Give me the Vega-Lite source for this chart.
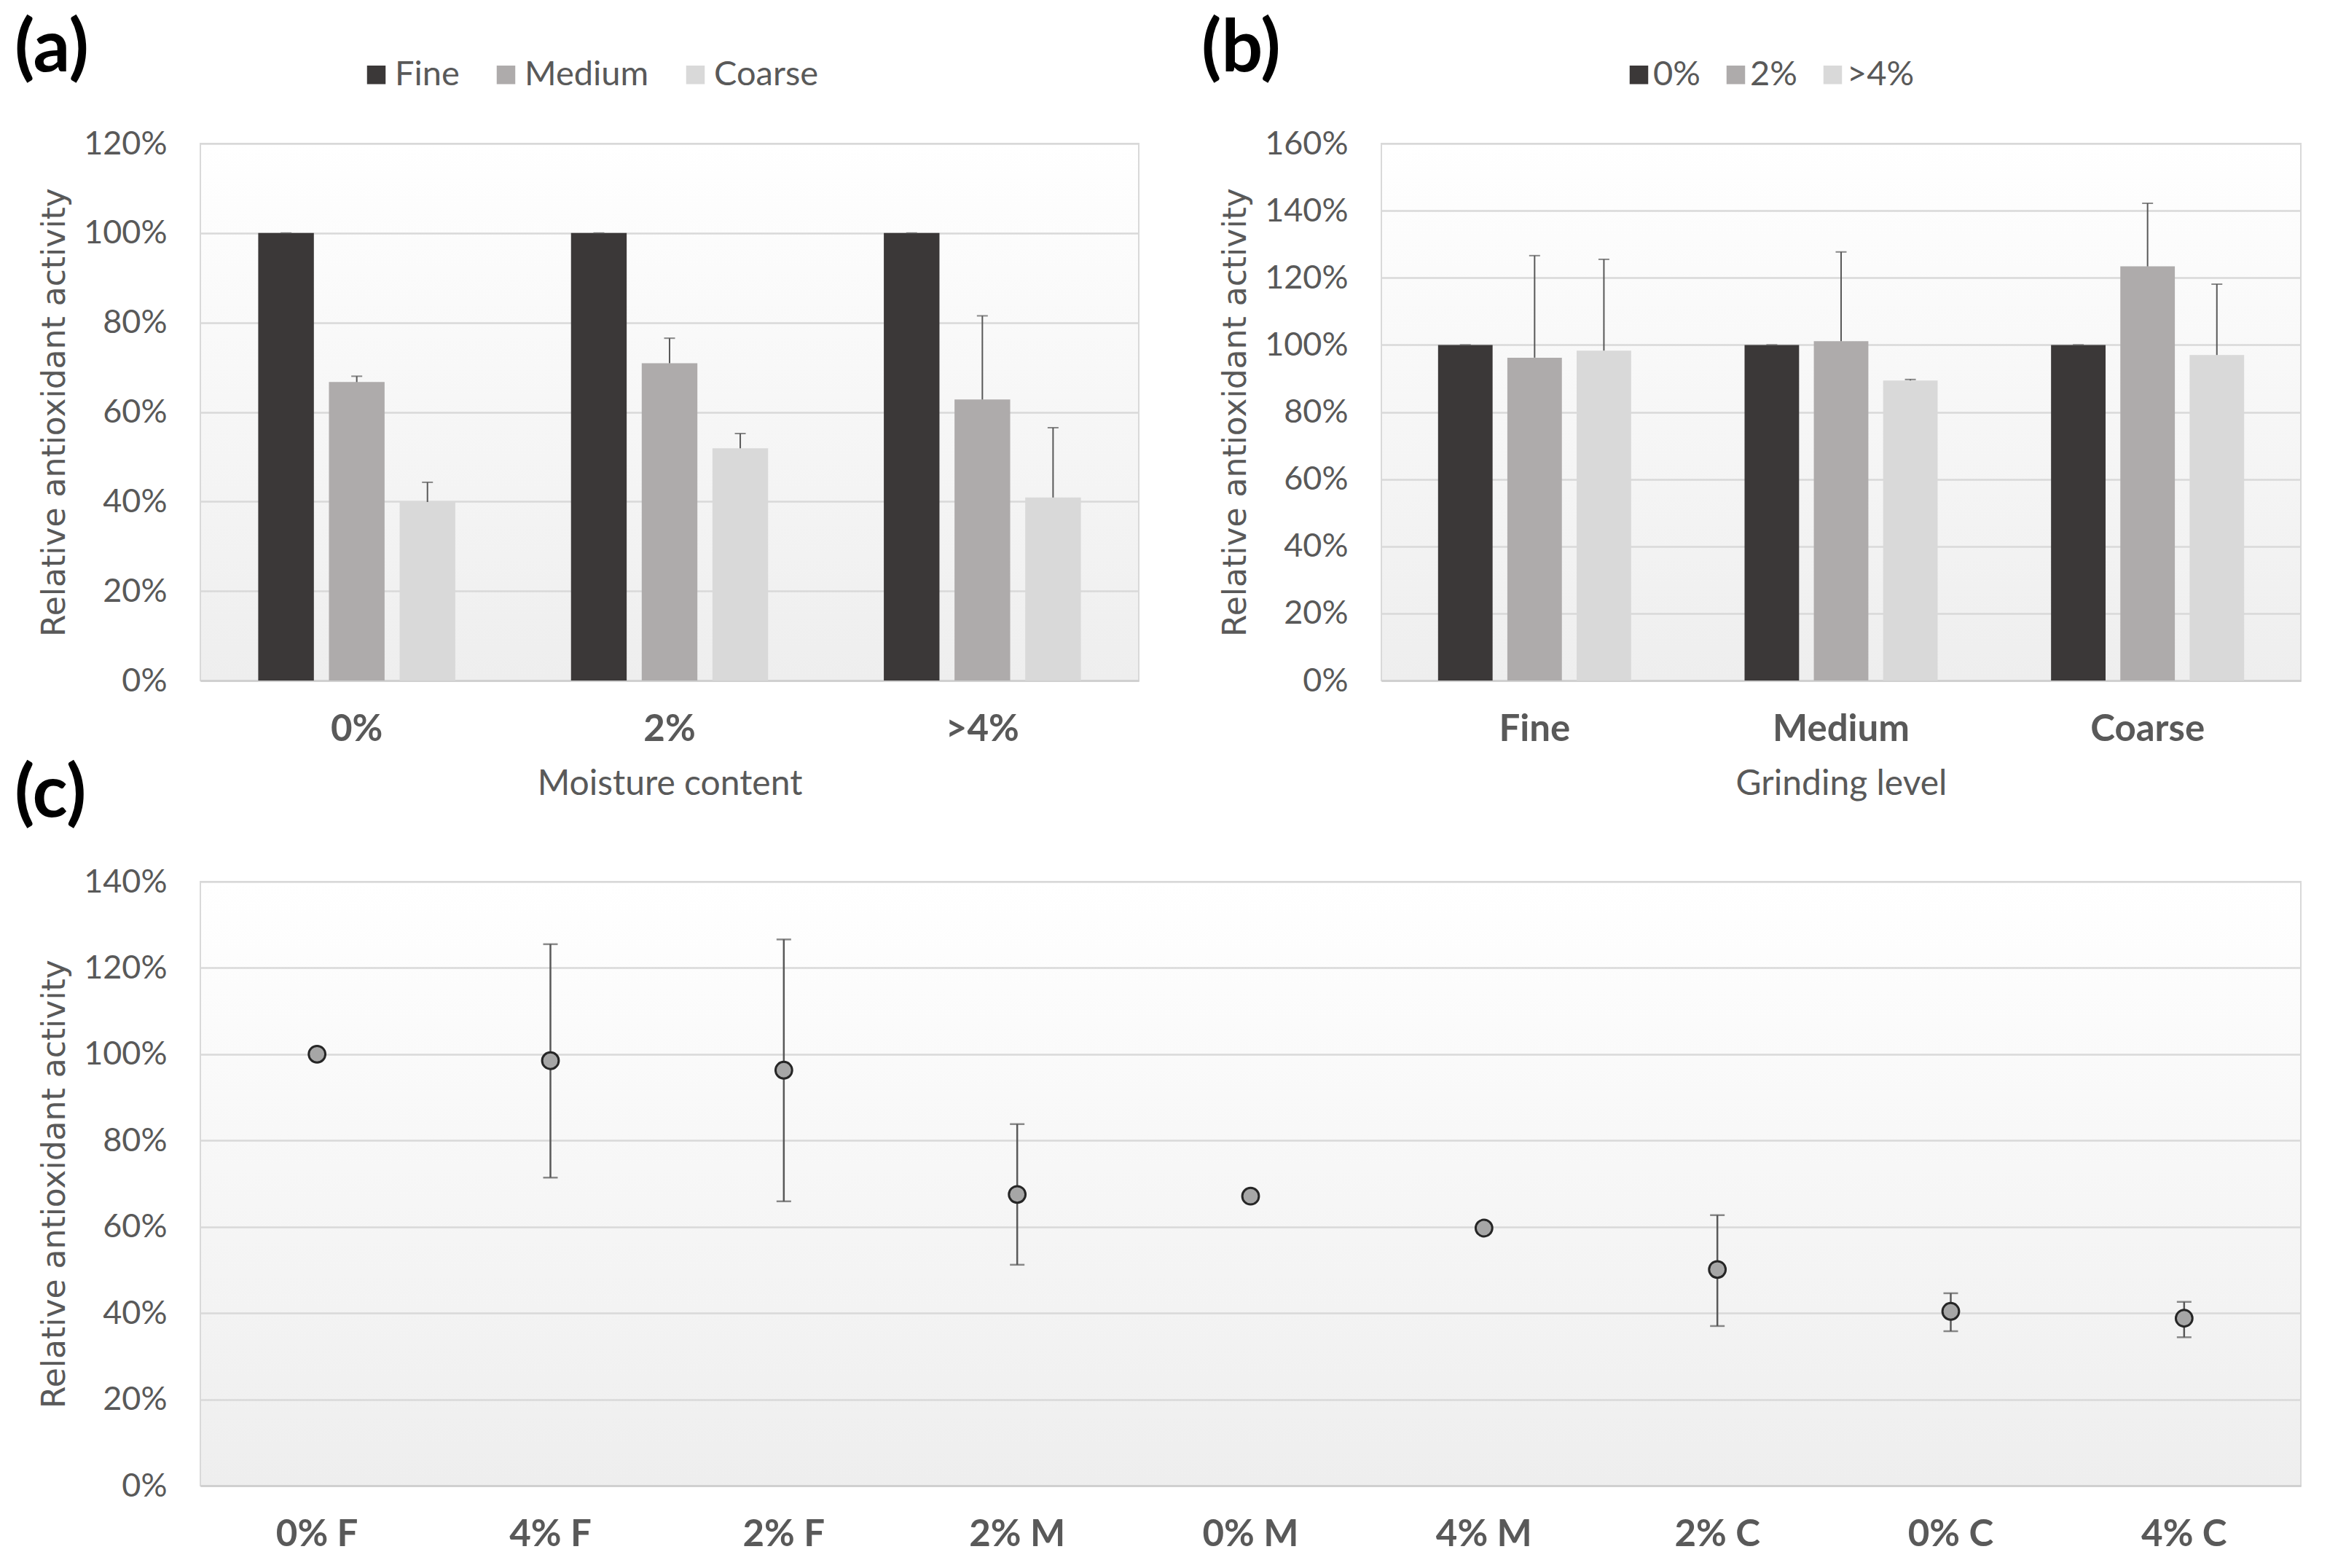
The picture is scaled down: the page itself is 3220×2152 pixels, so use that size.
{
  "$schema": "https://vega.github.io/schema/vega-lite/v6.json",
  "autosize": {"type": "none"},
  "padding": {"left": 275, "top": 197, "right": 2945, "bottom": 1955},
  "background": "#ffffff",
  "config": {
    "font": "Lato",
    "view": {"stroke": "#d9d9d9", "strokeWidth": 2, "fill": {"gradient": "linear", "x1": 0, "y1": 0, "x2": 0, "y2": 1, "stops": [{"offset": 0, "color": "#ffffff"}, {"offset": 1, "color": "#eeeeee"}]}},
    "axis": {"labelFont": "Lato", "labelColor": "#595959", "titleColor": "#595959", "titleFontWeight": "normal", "labelLimit": 600},
    "axisY": {"domain": false, "ticks": false, "tickSize": 0, "grid": true, "gridColor": "#d9d9d9", "gridWidth": 2.5, "labelFontSize": 45, "labelPadding": 46, "titleFont": "DejaVu Sans", "titleFontSize": 44, "titlePadding": 17},
    "axisX": {"domain": true, "domainColor": "#d0d0d0", "domainWidth": 3, "ticks": false, "tickSize": 0, "grid": false, "labelFontSize": 51, "labelFontWeight": "bold", "labelPadding": 42, "labelAngle": 0, "titleFont": "Lato", "titleFontSize": 48, "titlePadding": 26},
    "legend": {"labelFont": "Lato", "labelFontSize": 47, "labelColor": "#595959", "symbolType": "square", "symbolSize": 650, "symbolStrokeWidth": 0, "labelOffset": 2, "labelLimit": 600}
  },
  "spacing": 1013,
  "bounds": "flush",
  "resolve": {"scale": {"x": "independent", "y": "independent", "color": "independent"}, "legend": {"color": "independent"}},
  "vconcat": [
    {
      "spacing": 333,
      "bounds": "flush",
      "resolve": {"scale": {"x": "independent", "y": "independent", "color": "independent", "xOffset": "independent"}, "legend": {"color": "independent"}},
      "hconcat": [
        {
          "width": 1288,
          "height": 737,
          "title": {"text": "(a)", "anchor": "start", "frame": "group", "orient": "top", "offset": 0, "dx": -255, "dy": 40, "fontSize": 100, "fontWeight": "bold", "color": "#000000", "baseline": "top", "font": "Lato"},
          "data": {"values": [
            {"moisture": "0%", "grind": "Fine", "value": 1.0, "upper": 1.0},
            {"moisture": "0%", "grind": "Medium", "value": 0.667, "upper": 0.68},
            {"moisture": "0%", "grind": "Coarse", "value": 0.399, "upper": 0.443},
            {"moisture": "2%", "grind": "Fine", "value": 1.0, "upper": 1.0},
            {"moisture": "2%", "grind": "Medium", "value": 0.709, "upper": 0.765},
            {"moisture": "2%", "grind": "Coarse", "value": 0.519, "upper": 0.552},
            {"moisture": ">4%", "grind": "Fine", "value": 1.0, "upper": 1.0},
            {"moisture": ">4%", "grind": "Medium", "value": 0.628, "upper": 0.815},
            {"moisture": ">4%", "grind": "Coarse", "value": 0.409, "upper": 0.565}
          ]},
          "encoding": {
            "x": {"field": "moisture", "type": "nominal", "sort": ["0%", "2%", ">4%"], "scale": {"paddingInner": 0.37, "paddingOuter": 0.185}, "title": "Moisture content"},
            "xOffset": {"field": "grind", "type": "nominal", "sort": ["Fine", "Medium", "Coarse"], "scale": {"paddingInner": 0.213, "paddingOuter": 0}}
          },
          "layer": [
            {
              "mark": {"type": "bar"},
              "encoding": {
                "y": {"field": "value", "type": "quantitative", "scale": {"domain": [0, 1.2]}, "axis": {"format": ".0%", "values": [0, 0.2, 0.4, 0.6, 0.8, 1.0, 1.2]}, "title": "Relative antioxidant activity"},
                "color": {"field": "grind", "type": "nominal", "scale": {"domain": ["Fine", "Medium", "Coarse"], "range": ["#3b3838", "#aeabab", "#d9d9d9"]}, "legend": {"orient": "none", "legendX": 218, "legendY": -118, "direction": "horizontal", "title": null, "columnPadding": 40}}
              }
            },
            {
              "mark": {"type": "rule", "color": "#595959", "strokeWidth": 2},
              "encoding": {"y": {"field": "value", "type": "quantitative"}, "y2": {"field": "upper"}}
            },
            {
              "mark": {"type": "tick", "color": "#595959", "thickness": 2, "size": 15},
              "encoding": {"y": {"field": "upper", "type": "quantitative"}}
            }
          ]
        },
        {
          "width": 1262,
          "height": 737,
          "title": {"text": "(b)", "anchor": "start", "frame": "group", "orient": "top", "offset": 0, "dx": -247, "dy": 40, "fontSize": 100, "fontWeight": "bold", "color": "#000000", "baseline": "top", "font": "Lato"},
          "data": {"values": [
            {"grind": "Fine", "moisture": "0%", "value": 1.0, "upper": 1.0},
            {"grind": "Fine", "moisture": "2%", "value": 0.962, "upper": 1.266},
            {"grind": "Fine", "moisture": ">4%", "value": 0.983, "upper": 1.255},
            {"grind": "Medium", "moisture": "0%", "value": 1.0, "upper": 1.0},
            {"grind": "Medium", "moisture": "2%", "value": 1.011, "upper": 1.277},
            {"grind": "Medium", "moisture": ">4%", "value": 0.894, "upper": 0.897},
            {"grind": "Coarse", "moisture": "0%", "value": 1.0, "upper": 1.0},
            {"grind": "Coarse", "moisture": "2%", "value": 1.234, "upper": 1.422},
            {"grind": "Coarse", "moisture": ">4%", "value": 0.97, "upper": 1.181}
          ]},
          "encoding": {
            "x": {"field": "grind", "type": "nominal", "sort": ["Fine", "Medium", "Coarse"], "scale": {"paddingInner": 0.37, "paddingOuter": 0.185}, "title": "Grinding level"},
            "xOffset": {"field": "moisture", "type": "nominal", "sort": ["0%", "2%", ">4%"], "scale": {"paddingInner": 0.213, "paddingOuter": 0}}
          },
          "layer": [
            {
              "mark": {"type": "bar"},
              "encoding": {
                "y": {"field": "value", "type": "quantitative", "scale": {"domain": [0, 1.6]}, "axis": {"format": ".0%", "values": [0, 0.2, 0.4, 0.6, 0.8, 1.0, 1.2, 1.4, 1.6]}, "title": "Relative antioxidant activity"},
                "color": {"field": "moisture", "type": "nominal", "scale": {"domain": ["0%", "2%", ">4%"], "range": ["#3b3838", "#aeabab", "#d9d9d9"]}, "legend": {"orient": "none", "legendX": 330, "legendY": -118, "direction": "horizontal", "title": null, "columnPadding": 25, "labelOffset": -4}}
              }
            },
            {
              "mark": {"type": "rule", "color": "#595959", "strokeWidth": 2},
              "encoding": {"y": {"field": "value", "type": "quantitative"}, "y2": {"field": "upper"}}
            },
            {
              "mark": {"type": "tick", "color": "#595959", "thickness": 2, "size": 15},
              "encoding": {"y": {"field": "upper", "type": "quantitative"}}
            }
          ]
        }
      ]
    },
    {
      "width": 2883,
      "height": 829,
      "title": {"text": "(c)", "anchor": "start", "frame": "group", "orient": "top", "offset": 0, "dx": -255, "dy": -46, "fontSize": 100, "fontWeight": "bold", "color": "#000000", "baseline": "top", "font": "Lato"},
      "data": {"values": [
        {"sample": "0% F", "value": 1.0, "low": null, "high": null},
        {"sample": "4% F", "value": 0.985, "low": 0.714, "high": 1.255},
        {"sample": "2% F", "value": 0.963, "low": 0.659, "high": 1.266},
        {"sample": "2% M", "value": 0.675, "low": 0.512, "high": 0.838},
        {"sample": "0% M", "value": 0.671, "low": null, "high": null},
        {"sample": "4% M", "value": 0.597, "low": null, "high": null},
        {"sample": "2% C", "value": 0.501, "low": 0.37, "high": 0.627},
        {"sample": "0% C", "value": 0.404, "low": 0.358, "high": 0.446},
        {"sample": "4% C", "value": 0.388, "low": 0.344, "high": 0.426}
      ]},
      "encoding": {
        "x": {"field": "sample", "type": "nominal", "sort": ["0% F", "4% F", "2% F", "2% M", "0% M", "4% M", "2% C", "0% C", "4% C"], "scale": {"domain": ["0% F", "4% F", "2% F", "2% M", "0% M", "4% M", "2% C", "0% C", "4% C"], "paddingInner": 0, "paddingOuter": 0}, "title": null}
      },
      "layer": [
        {
          "transform": [{"filter": "datum.low != null"}],
          "mark": {"type": "rule", "color": "#595959", "strokeWidth": 2.5},
          "encoding": {"y": {"field": "low", "type": "quantitative"}, "y2": {"field": "high"}}
        },
        {
          "transform": [{"filter": "datum.low != null"}],
          "mark": {"type": "tick", "color": "#595959", "thickness": 2.5, "size": 20},
          "encoding": {"y": {"field": "low", "type": "quantitative"}}
        },
        {
          "transform": [{"filter": "datum.low != null"}],
          "mark": {"type": "tick", "color": "#595959", "thickness": 2.5, "size": 20},
          "encoding": {"y": {"field": "high", "type": "quantitative"}}
        },
        {
          "mark": {"type": "point", "shape": "circle", "filled": true, "fill": "#a6a6a6", "stroke": "#262626", "strokeWidth": 3, "size": 520, "opacity": 1},
          "encoding": {
            "y": {"field": "value", "type": "quantitative", "scale": {"domain": [0, 1.4]}, "axis": {"format": ".0%", "values": [0, 0.2, 0.4, 0.6, 0.8, 1.0, 1.2, 1.4]}, "title": "Relative antioxidant activity"}
          }
        }
      ]
    }
  ]
}
